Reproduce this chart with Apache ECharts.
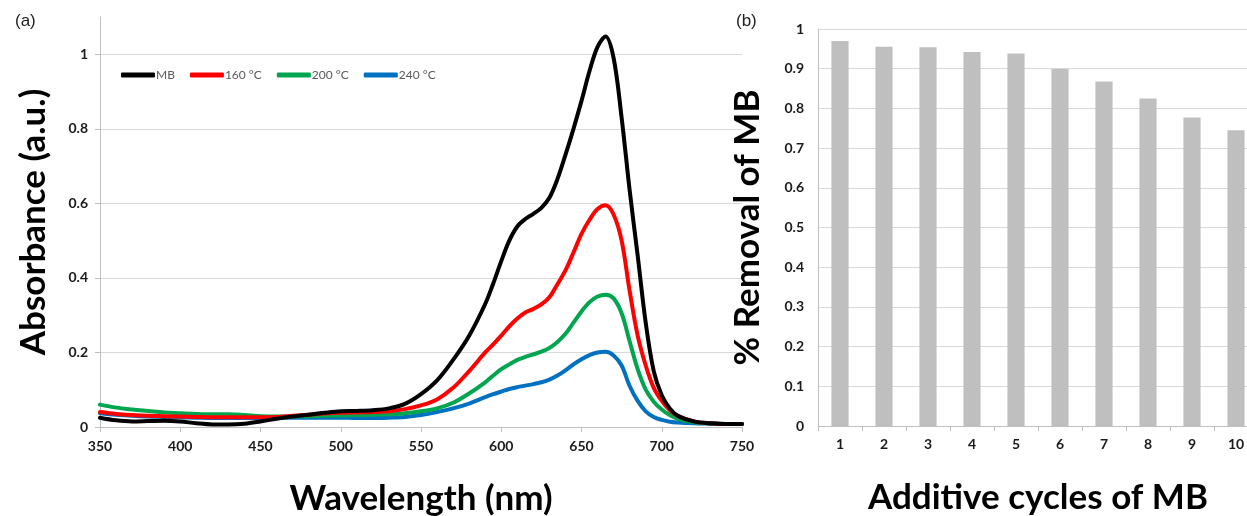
<!DOCTYPE html>
<html>
<head>
    <meta charset="UTF-8">
    <title>MB absorbance and removal</title>
    <script src="https://cdn.jsdelivr.net/npm/echarts@6/dist/echarts.min.js"></script>
    <style>
        html, body { margin: 0; padding: 0; background: #fff; }
        #main { width: 1247px; height: 516px; }
    </style>
</head>
<body>
    <div id="main"></div>
    <script>
        // wavelength grid (nm), finer steps around the band
        var wavelengths = [350, 360, 370, 380, 390, 400, 410, 420, 430, 440, 450, 460, 470, 480, 490,
            500, 510, 520, 530, 540, 550, 560, 570, 580, 590, 595, 600, 605, 610, 615, 620, 625, 630,
            635, 640, 645, 650, 655, 660, 665, 670, 675, 680, 685, 690, 695, 700, 705, 710, 720, 730, 740, 750];

        var absMB = [0.025, 0.018, 0.015, 0.016, 0.017, 0.015, 0.010, 0.007, 0.007, 0.009, 0.015, 0.022, 0.028, 0.033, 0.038,
            0.042, 0.043, 0.045, 0.050, 0.062, 0.088, 0.125, 0.180, 0.245, 0.330, 0.385, 0.445, 0.500, 0.538, 0.558, 0.572, 0.588, 0.615,
            0.665, 0.730, 0.800, 0.875, 0.955, 1.020, 1.048, 0.990, 0.830, 0.635, 0.460, 0.280, 0.150, 0.085, 0.050, 0.030, 0.015, 0.010, 0.008, 0.008];

        var abs160 = [0.040, 0.035, 0.032, 0.030, 0.029, 0.028, 0.027, 0.026, 0.026, 0.026, 0.026, 0.027, 0.030, 0.033, 0.036,
            0.038, 0.039, 0.040, 0.042, 0.048, 0.058, 0.074, 0.105, 0.150, 0.200, 0.222, 0.245, 0.270, 0.291, 0.307, 0.317, 0.329, 0.348,
            0.383, 0.420, 0.468, 0.518, 0.556, 0.585, 0.595, 0.570, 0.500, 0.365, 0.245, 0.165, 0.105, 0.070, 0.045, 0.030, 0.015, 0.010, 0.008, 0.008];

        var abs200 = [0.060, 0.052, 0.047, 0.043, 0.039, 0.037, 0.035, 0.034, 0.034, 0.032, 0.029, 0.028, 0.028, 0.029, 0.030,
            0.031, 0.032, 0.033, 0.034, 0.037, 0.042, 0.050, 0.065, 0.090, 0.120, 0.138, 0.155, 0.168, 0.180, 0.188, 0.195, 0.202, 0.212,
            0.228, 0.250, 0.280, 0.310, 0.335, 0.350, 0.355, 0.345, 0.305, 0.230, 0.155, 0.100, 0.068, 0.047, 0.032, 0.022, 0.013, 0.010, 0.008, 0.008];

        var abs240 = [0.037, 0.033, 0.030, 0.028, 0.027, 0.026, 0.025, 0.024, 0.024, 0.024, 0.024, 0.025, 0.025, 0.025, 0.025,
            0.025, 0.024, 0.024, 0.025, 0.027, 0.032, 0.040, 0.050, 0.063, 0.080, 0.088, 0.095, 0.102, 0.107, 0.111, 0.115, 0.120, 0.127,
            0.138, 0.152, 0.168, 0.182, 0.193, 0.200, 0.202, 0.192, 0.165, 0.110, 0.070, 0.042, 0.027, 0.019, 0.014, 0.012, 0.010, 0.009, 0.008, 0.008];

        var seriesNames = ['MB', '160 °C', '200 °C', '240 °C'];
        var seriesColors = ['#000000', '#ff0000', '#00a54f', '#0070c0'];

        // panel (b)
        var cycles = ['1', '2', '3', '4', '5', '6', '7', '8', '9', '10'];
        var removal = [0.970, 0.955, 0.954, 0.942, 0.938, 0.899, 0.868, 0.825, 0.777, 0.745];

        function pairs(ys) {
            return wavelengths.map(function (x, i) { return [x, ys[i]]; });
        }

        var curves = [absMB, abs160, abs200, abs240];
        var lineSeries = curves.map(function (ys, i) {
            return {
                name: seriesNames[i],
                type: 'line',
                xAxisIndex: 0,
                yAxisIndex: 0,
                data: pairs(ys),
                smooth: 0.35,
                symbol: 'none',
                lineStyle: { width: 4, color: seriesColors[i], cap: 'round', join: 'round' },
                itemStyle: { color: seriesColors[i] },
                z: 10 - i
            };
        });

        var bold = 'Lato';
        var tickLabel = { fontFamily: bold, fontWeight: 'bold', fontSize: 14, color: '#1a1a1a' };
        var gridLine = { show: true, lineStyle: { color: '#d9d9d9', width: 1 } };
        var axisLine = { show: true, lineStyle: { color: '#bfbfbf', width: 1 } };
        var axisTick = { show: true, length: 5, lineStyle: { color: '#bfbfbf' } };

        var myChart = echarts.init(document.getElementById('main'), null, { renderer: 'canvas' });

        var option = {
            backgroundColor: '#ffffff',
            animation: false,
            title: [
                { text: '(a)', left: 10, top: 8, textStyle: { fontFamily: 'Liberation Sans', fontWeight: 'normal', fontSize: 17, color: '#222' } },
                { text: '(b)', left: 731, top: 8, textStyle: { fontFamily: 'Liberation Sans', fontWeight: 'normal', fontSize: 17, color: '#222' } }
            ],
            legend: {
                left: 116,
                top: 64,
                icon: 'roundRect',
                itemWidth: 34,
                itemHeight: 5,
                itemGap: 15,
                data: seriesNames,
                textStyle: { fontFamily: 'Lato', fontSize: 12, color: '#595959', padding: [0, 0, 0, -4] }
            },
            grid: [
                { left: 100, right: 505, top: 17, bottom: 89, outerBoundsMode: 'none' },
                { left: 818, width: 440, top: 29, bottom: 90, outerBoundsMode: 'none' }
            ],
            xAxis: [
                {
                    gridIndex: 0,
                    type: 'value',
                    min: 350,
                    max: 750,
                    interval: 50,
                    axisLine: axisLine,
                    axisTick: axisTick,
                    splitLine: { show: false },
                    axisLabel: Object.assign({ margin: 12 }, tickLabel),
                    name: 'Wavelength (nm)',
                    nameLocation: 'middle',
                    nameGap: 54,
                    nameTextStyle: { fontFamily: bold, fontWeight: 'bold', fontSize: 35, color: '#000' }
                },
                {
                    gridIndex: 1,
                    type: 'category',
                    data: cycles,
                    axisLine: axisLine,
                    axisTick: axisTick,
                    axisLabel: Object.assign({ margin: 11 }, tickLabel),
                    name: 'Additive cycles of MB',
                    nameLocation: 'middle',
                    nameGap: 54,
                    nameTextStyle: { fontFamily: bold, fontWeight: 'bold', fontSize: 35, color: '#000' }
                }
            ],
            yAxis: [
                {
                    gridIndex: 0,
                    type: 'value',
                    min: 0,
                    max: 1.1,
                    interval: 0.2,
                    axisLine: axisLine,
                    axisTick: axisTick,
                    splitLine: { show: true, showMaxLine: false, lineStyle: { color: '#d9d9d9' } },
                    axisLabel: Object.assign({ margin: 12, showMaxLabel: false }, tickLabel),
                    name: 'Absorbance (a.u.)',
                    nameLocation: 'middle',
                    nameGap: 49,
                    nameTextStyle: { fontFamily: bold, fontWeight: 'bold', fontSize: 35, color: '#000' }
                },
                {
                    gridIndex: 1,
                    type: 'value',
                    min: 0,
                    max: 1,
                    interval: 0.1,
                    axisLine: axisLine,
                    axisTick: { show: false },
                    splitLine: gridLine,
                    axisLabel: Object.assign({ margin: 14 }, tickLabel),
                    name: '% Removal of MB',
                    nameLocation: 'middle',
                    nameGap: 53,
                    nameTextStyle: { fontFamily: bold, fontWeight: 'bold', fontSize: 35, color: '#000' }
                }
            ],
            series: lineSeries.concat([
                {
                    name: 'removal',
                    type: 'bar',
                    xAxisIndex: 1,
                    yAxisIndex: 1,
                    data: removal,
                    barWidth: '39%',
                    itemStyle: { color: '#bfbfbf' }
                }
            ])
        };

        myChart.setOption(option);
    </script>
</body>
</html>
